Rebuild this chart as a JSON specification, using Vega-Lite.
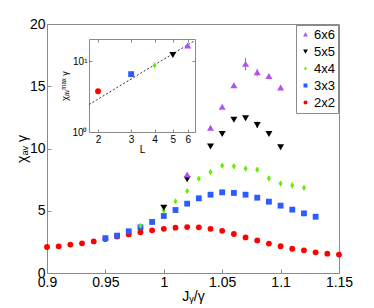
{
  "$schema": "https://vega.github.io/schema/vega-lite/v6.json",
  "width": 292,
  "height": 249,
  "autosize": {"type": "none"},
  "padding": {"left": 47, "top": 24, "right": 35, "bottom": 35},
  "background": "white",
  "config": {
    "font": "Liberation Sans",
    "view": {"stroke": "#8a8a8a", "strokeWidth": 1},
    "axis": {
      "grid": false,
      "domainColor": "#8a8a8a",
      "tickColor": "#8a8a8a",
      "labelColor": "#000000",
      "titleColor": "#000000",
      "titleFontWeight": "normal",
      "labelFont": "Liberation Sans",
      "titleFont": "Liberation Sans"
    },
    "legend": {
      "labelFont": "Liberation Sans",
      "labelFontSize": 13,
      "labelColor": "#000000",
      "strokeColor": "#8a8a8a",
      "fillColor": "white",
      "padding": 3,
      "rowPadding": 3,
      "columnPadding": 0,
      "symbolSize": 16,
      "symbolStrokeWidth": 0,
      "labelOffset": 2
    }
  },
  "datasets": {
    "main": [
      {"s": "2x2", "x": 0.90, "y": 2.09},
      {"s": "2x2", "x": 0.91, "y": 2.14},
      {"s": "2x2", "x": 0.92, "y": 2.28},
      {"s": "2x2", "x": 0.93, "y": 2.38},
      {"s": "2x2", "x": 0.94, "y": 2.54},
      {"s": "2x2", "x": 0.95, "y": 2.73},
      {"s": "2x2", "x": 0.96, "y": 2.93},
      {"s": "2x2", "x": 0.97, "y": 3.10},
      {"s": "2x2", "x": 0.98, "y": 3.27},
      {"s": "2x2", "x": 0.99, "y": 3.43},
      {"s": "2x2", "x": 1.00, "y": 3.55},
      {"s": "2x2", "x": 1.01, "y": 3.64},
      {"s": "2x2", "x": 1.02, "y": 3.69},
      {"s": "2x2", "x": 1.03, "y": 3.67},
      {"s": "2x2", "x": 1.04, "y": 3.55},
      {"s": "2x2", "x": 1.05, "y": 3.39},
      {"s": "2x2", "x": 1.06, "y": 3.13},
      {"s": "2x2", "x": 1.07, "y": 2.86},
      {"s": "2x2", "x": 1.08, "y": 2.62},
      {"s": "2x2", "x": 1.09, "y": 2.36},
      {"s": "2x2", "x": 1.10, "y": 2.15},
      {"s": "2x2", "x": 1.11, "y": 1.95},
      {"s": "2x2", "x": 1.12, "y": 1.82},
      {"s": "2x2", "x": 1.13, "y": 1.66},
      {"s": "2x2", "x": 1.14, "y": 1.55},
      {"s": "2x2", "x": 1.15, "y": 1.48},
      {"s": "3x3", "x": 0.95, "y": 2.80},
      {"s": "3x3", "x": 0.96, "y": 3.00},
      {"s": "3x3", "x": 0.97, "y": 3.35},
      {"s": "3x3", "x": 0.98, "y": 3.67},
      {"s": "3x3", "x": 0.99, "y": 4.10},
      {"s": "3x3", "x": 1.00, "y": 4.58},
      {"s": "3x3", "x": 1.01, "y": 5.06},
      {"s": "3x3", "x": 1.02, "y": 5.57},
      {"s": "3x3", "x": 1.03, "y": 6.00},
      {"s": "3x3", "x": 1.04, "y": 6.29},
      {"s": "3x3", "x": 1.05, "y": 6.48},
      {"s": "3x3", "x": 1.06, "y": 6.43},
      {"s": "3x3", "x": 1.07, "y": 6.29},
      {"s": "3x3", "x": 1.08, "y": 6.05},
      {"s": "3x3", "x": 1.09, "y": 5.73},
      {"s": "3x3", "x": 1.10, "y": 5.41},
      {"s": "3x3", "x": 1.11, "y": 5.09},
      {"s": "3x3", "x": 1.12, "y": 4.79},
      {"s": "3x3", "x": 1.13, "y": 4.52},
      {"s": "4x4", "x": 0.98, "y": 3.80},
      {"s": "4x4", "x": 1.00, "y": 5.00},
      {"s": "4x4", "x": 1.01, "y": 5.76},
      {"s": "4x4", "x": 1.02, "y": 6.59},
      {"s": "4x4", "x": 1.03, "y": 7.58},
      {"s": "4x4", "x": 1.04, "y": 8.11, "err": 0.2},
      {"s": "4x4", "x": 1.05, "y": 8.62, "err": 0.2},
      {"s": "4x4", "x": 1.06, "y": 8.57, "err": 0.2},
      {"s": "4x4", "x": 1.07, "y": 8.38, "err": 0.2},
      {"s": "4x4", "x": 1.08, "y": 8.30, "err": 0.2},
      {"s": "4x4", "x": 1.09, "y": 7.60, "err": 0.2},
      {"s": "4x4", "x": 1.10, "y": 7.18, "err": 0.2},
      {"s": "4x4", "x": 1.11, "y": 7.04, "err": 0.25},
      {"s": "4x4", "x": 1.12, "y": 6.85, "err": 0.2},
      {"s": "5x5", "x": 1.00, "y": 5.25},
      {"s": "5x5", "x": 1.02, "y": 7.55},
      {"s": "5x5", "x": 1.04, "y": 10.17},
      {"s": "5x5", "x": 1.05, "y": 11.19},
      {"s": "5x5", "x": 1.06, "y": 12.32},
      {"s": "5x5", "x": 1.07, "y": 12.45, "err": 0.1},
      {"s": "5x5", "x": 1.08, "y": 11.91, "err": 0.25},
      {"s": "5x5", "x": 1.09, "y": 11.19},
      {"s": "5x5", "x": 1.10, "y": 10.12},
      {"s": "6x6", "x": 1.02, "y": 7.90},
      {"s": "6x6", "x": 1.04, "y": 11.65},
      {"s": "6x6", "x": 1.05, "y": 13.33},
      {"s": "6x6", "x": 1.06, "y": 15.07, "err": 0.15},
      {"s": "6x6", "x": 1.07, "y": 16.78, "err": 0.5},
      {"s": "6x6", "x": 1.08, "y": 16.10, "err": 0.3},
      {"s": "6x6", "x": 1.09, "y": 15.80, "err": 0.15},
      {"s": "6x6", "x": 1.10, "y": 14.89}
    ],
    "inset": [
      {"s": "2x2", "L": 2, "v": 3.76},
      {"s": "3x3", "L": 3, "v": 6.55},
      {"s": "4x4", "L": 4, "v": 8.7},
      {"s": "5x5", "L": 5, "v": 12.3},
      {"s": "6x6", "L": 6, "v": 16.5}
    ],
    "fit": [
      {"L": 1.79, "v": 2.44},
      {"L": 6.56, "v": 19.6}
    ]
  },
  "resolve": {
    "scale": {"x": "independent", "y": "independent"},
    "axis": {"x": "independent", "y": "independent"}
  },
  "layer": [
    {
      "data": {"name": "main"},
      "encoding": {
        "x": {
          "field": "x", "type": "quantitative",
          "scale": {"domain": [0.9, 1.15], "nice": false, "zero": false},
          "axis": {
            "orient": "bottom",
            "values": [0.9, 0.95, 1, 1.05, 1.1, 1.15],
            "format": "~g",
            "title": "Jᵧ/γ",
            "labelFontSize": 14,
            "titleFontSize": 14,
            "tickSize": -4,
            "labelPadding": 6,
            "titlePadding": 0,
            "labelFlush": false
          }
        },
        "y": {
          "field": "y", "type": "quantitative",
          "scale": {"domain": [0, 20], "nice": false},
          "axis": {
            "orient": "left",
            "values": [0, 5, 10, 15, 20],
            "title": "χₐᵥ γ",
            "labelFontSize": 14,
            "titleFontSize": 14,
            "tickSize": -4,
            "labelPadding": 6,
            "titlePadding": 0
          }
        },
        "color": {
          "field": "s", "type": "nominal",
          "scale": {
            "domain": ["6x6", "5x5", "4x4", "3x3", "2x2"],
            "range": ["#b44ff0", "#000000", "#66ee00", "#2a5cff", "#ff0000"]
          },
          "legend": {"orient": "none", "legendX": 249, "legendY": 1, "title": null}
        }
      },
      "layer": [
        {
          "transform": [{"filter": "datum.err > 0"}],
          "mark": {"type": "errorbar", "thickness": 1},
          "encoding": {
            "yError": {"field": "err"}
          }
        },
        {
          "mark": {"type": "point", "filled": true, "size": 34, "opacity": 1},
          "encoding": {
            "shape": {
              "field": "s", "type": "nominal",
              "scale": {
                "domain": ["6x6", "5x5", "4x4", "3x3", "2x2"],
                "range": ["M0,-1.1L1.2,0.95L-1.2,0.95Z", "M0,1.1L1.2,-0.95L-1.2,-0.95Z", "M0,-1.05L0.7,0L0,1.05L-0.7,0Z", "square", "circle"]
              },
              "legend": {"orient": "none", "legendX": 249, "legendY": 1, "title": null}
            }
          }
        }
      ]
    },
    {
      "resolve": {
        "scale": {"x": "shared", "y": "shared"},
        "axis": {"x": "independent", "y": "independent"}
      },
      "layer": [
        {
          "data": {"name": "fit"},
          "mark": {"type": "line", "strokeDash": [2, 2], "strokeWidth": 1, "color": "#333333"},
          "encoding": {
            "x": {
              "field": "L", "type": "quantitative",
              "scale": {"type": "log", "domain": [1.79, 6.56], "range": [42, 148], "nice": false},
              "axis": {
                "orient": "top", "offset": -15, "values": [2, 3, 4, 5, 6],
                "labels": false, "title": null, "tickSize": -3
              }
            },
            "y": {
              "field": "v", "type": "quantitative",
              "scale": {"type": "log", "domain": [1, 20.5], "range": [108, 15], "nice": false},
              "axis": {
                "orient": "right", "offset": -144, "values": [1, 10],
                "labels": false, "title": null, "tickSize": -3
              }
            }
          }
        },
        {
          "data": {"name": "inset"},
          "mark": {"type": "point", "filled": true, "size": 34, "opacity": 1},
          "encoding": {
            "x": {
              "field": "L", "type": "quantitative",
              "axis": {
                "orient": "bottom", "offset": -141, "values": [2, 3, 4, 5, 6],
                "title": "L", "labelFontSize": 10, "titleFontSize": 10,
                "tickSize": -3, "labelPadding": 5, "titlePadding": 0
              }
            },
            "y": {
              "field": "v", "type": "quantitative",
              "axis": {
                "orient": "left", "offset": -42, "values": [1, 10],
                "labelExpr": "datum.value == 1 ? '10⁰' : '10¹'",
                "title": "χₐᵥᵐᵃˣ γ", "labelFontSize": 10, "titleFontSize": 9,
                "tickSize": -3, "labelPadding": 5, "titlePadding": 2
              }
            },
            "color": {"field": "s", "type": "nominal"},
            "shape": {"field": "s", "type": "nominal"}
          }
        }
      ]
    }
  ]
}
